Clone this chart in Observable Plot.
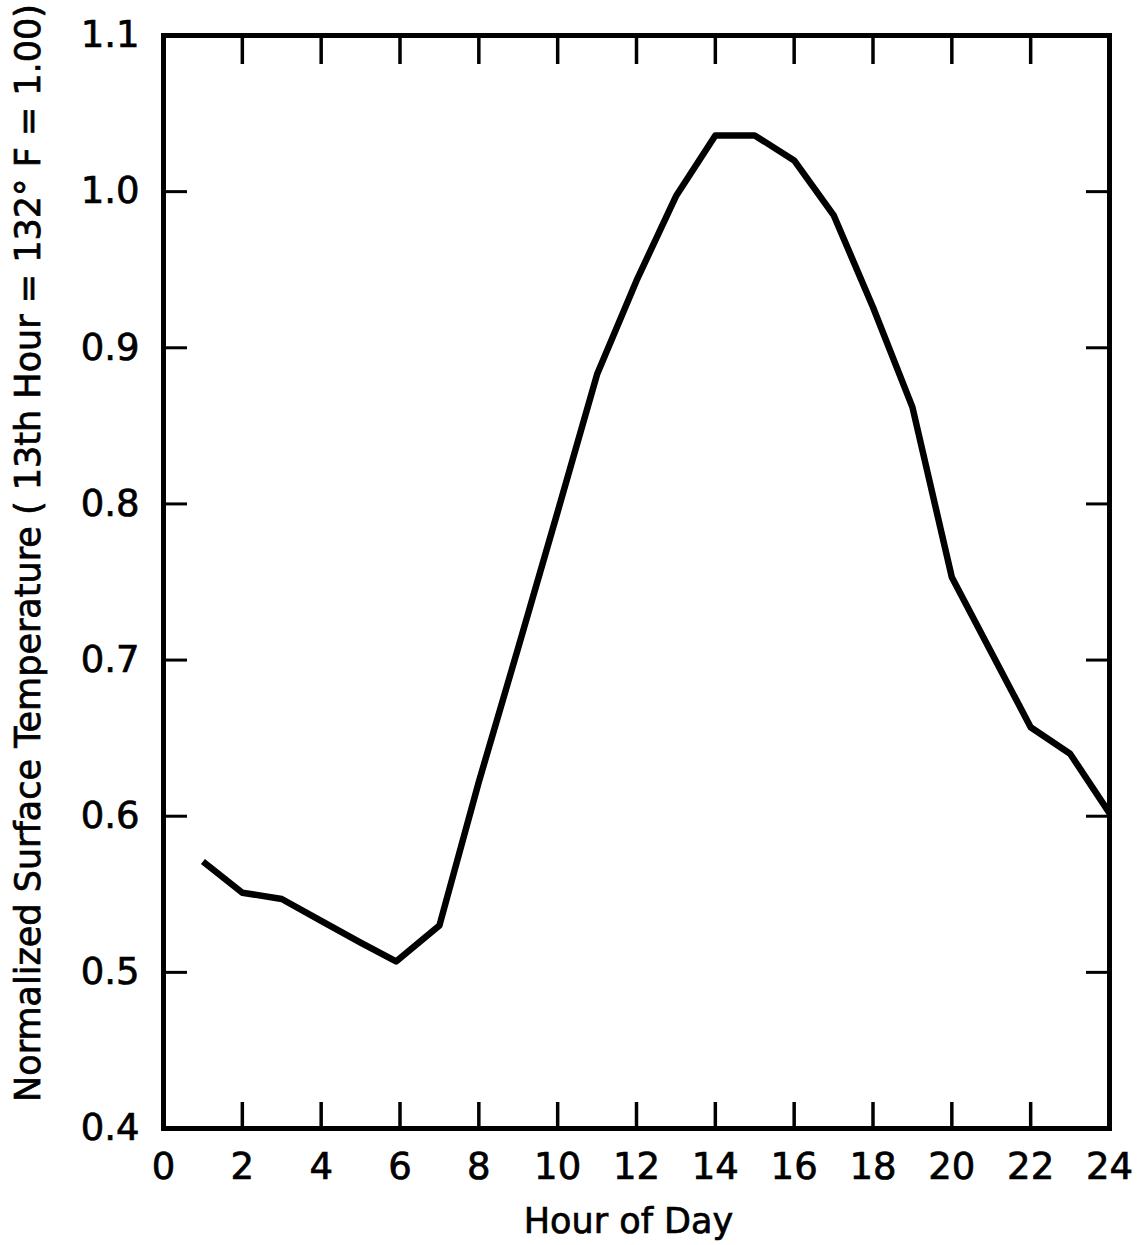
<!DOCTYPE html>
<html><head><meta charset="utf-8">
<script src="https://cdn.jsdelivr.net/npm/d3@7"></script>
<script src="https://cdn.jsdelivr.net/npm/@observablehq/plot@0.6"></script>
<style>html,body{margin:0;padding:0;background:#fff} svg{display:block} svg text{stroke:#000;stroke-width:0.7px}</style>
</head><body><div id="chart"></div>
<script>
const hours  = [1, 2, 3, 4, 5, 5.9, 7, 8, 9, 10, 11, 12, 13, 14, 15, 16, 17, 18, 19, 20, 21, 22, 23, 24];
const values = [0.571, 0.551, 0.547, 0.533, 0.519, 0.507, 0.530, 0.622, 0.708, 0.795, 0.883, 0.943, 0.997, 1.036, 1.036, 1.020, 0.985, 0.926, 0.862, 0.753, 0.705, 0.657, 0.640, 0.602];
const xTicks = [0, 2, 4, 6, 8, 10, 12, 14, 16, 18, 20, 22, 24];
const yTicks = [0.4, 0.5, 0.6, 0.7, 0.8, 0.9, 1.0, 1.1];
const xLabel = "Hour of Day";
const yLabel = "Normalized Surface Temperature ( 13th Hour = 132° F = 1.00)";

const data = hours.map((h, i) => ({hour: h, value: values[i]}));
const font = "DejaVu Sans";

const chart = Plot.plot({
  width: 1140, height: 1245,
  marginLeft: 163, marginRight: 31, marginTop: 35, marginBottom: 117,
  style: {fontFamily: font, color: "#000", background: "#fff"},
  x: {domain: [0, 24]},
  y: {domain: [0.4, 1.1]},
  marks: [
    Plot.axisX(xTicks, {anchor: "bottom", tickSize: -26, tickPadding: 50, strokeWidth: 3.5, fontSize: 37, label: null, tickFormat: d => String(d)}),
    Plot.axisX(xTicks, {anchor: "top", tickSize: -28, strokeWidth: 3.5, tickFormat: () => "", label: null}),
    Plot.axisY(yTicks, {anchor: "left", tickSize: -24, tickPadding: 48, strokeWidth: 3, fontSize: 37, label: null, tickFormat: d => d.toFixed(1)}),
    Plot.axisY(yTicks, {anchor: "right", tickSize: -24, strokeWidth: 3, tickFormat: () => "", label: null}),
    Plot.frame({stroke: "#000", strokeWidth: 5}),
    Plot.line(data, {x: "hour", y: "value", stroke: "#000", strokeWidth: 6.5, strokeLinejoin: "round", strokeLinecap: "butt"}),
    Plot.text([xLabel], {frameAnchor: "bottom", dy: 104, dx: -8, text: d => d, fontSize: 35, lineAnchor: "bottom"}),
    Plot.text([yLabel], {frameAnchor: "left", rotate: -90, dx: -135, dy: -29, text: d => d, fontSize: 35, textAnchor: "middle"})
  ]
});
document.getElementById("chart").appendChild(chart);
</script>
</body></html>
